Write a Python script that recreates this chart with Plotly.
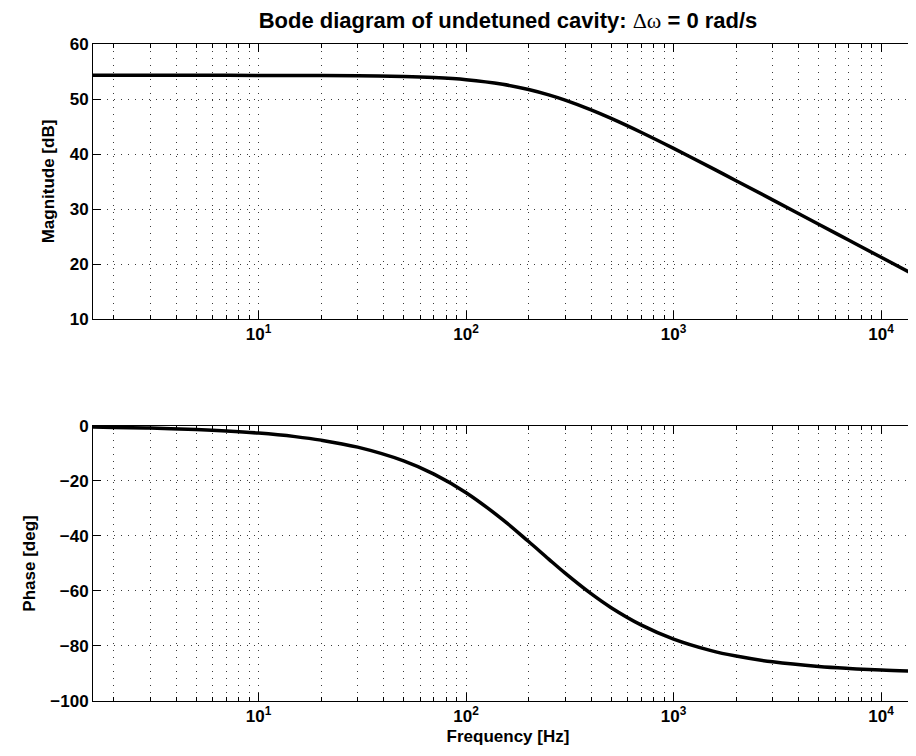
import plotly.graph_objects as go
from plotly.subplots import make_subplots
import math

# Frequency samples [Hz]
freq_hz = [1.59, 2, 3, 5, 7, 10, 15, 20, 30, 50, 70, 100, 150, 200, 250, 300,
           400, 500, 700, 1000, 1500, 2000, 3000, 5000, 7000, 10000, 15915]
# Magnitude [dB]
magnitude_db = [54.3, 54.3, 54.3, 54.3, 54.3, 54.29, 54.28, 54.26, 54.22, 54.09,
                53.89, 53.5, 52.67, 51.72, 50.74, 49.79, 48.02, 46.47, 43.91,
                41.02, 37.61, 35.15, 31.66, 27.24, 24.32, 21.22, 17.19]
# Phase [deg]
phase_deg = [-0.41, -0.52, -0.77, -1.29, -1.81, -2.58, -3.87, -5.15, -7.7, -12.69,
             -17.5, -24.25, -34.04, -42.02, -48.39, -53.5, -60.97, -66.06, -72.4,
             -77.48, -81.58, -83.67, -85.77, -87.46, -88.18, -88.73, -89.2]

x_major = [10, 100, 1000, 10000]
x_major_text = ["10<sup>1</sup>", "10<sup>2</sup>", "10<sup>3</sup>", "10<sup>4</sup>"]
mag_ticks = [10, 20, 30, 40, 50, 60]
phase_ticks = [-100, -80, -60, -40, -20, 0]

x_lo, x_hi = 1.5915, 15915.0
x_minor = [k * 10 ** e for e in range(0, 5) for k in range(2, 10)
           if x_lo < k * 10 ** e < x_hi]

FONT = "Liberation Sans, Arial, Helvetica, sans-serif"
GRID = "#3a3a3a"
DASH = "1px,6px"

fig = make_subplots(rows=2, cols=1, vertical_spacing=0.0)

fig.add_trace(go.Scatter(x=freq_hz, y=magnitude_db, mode="lines",
                         line=dict(color="black", width=3.5, shape="spline"),
                         showlegend=False), row=1, col=1)
fig.add_trace(go.Scatter(x=freq_hz, y=phase_deg, mode="lines",
                         line=dict(color="black", width=3.5, shape="spline"),
                         showlegend=False), row=2, col=1)

xcommon = dict(type="log", range=[math.log10(x_lo), math.log10(x_hi)],
               tickmode="array", tickvals=x_major, ticktext=x_major_text,
               ticks="inside", ticklen=8, tickcolor="black", tickwidth=1,
               showline=True, linecolor="black", linewidth=1, mirror="allticks",
               showgrid=True, gridcolor=GRID, gridwidth=1, griddash=DASH,
               zeroline=False, automargin=False,
               minor=dict(tickmode="array", tickvals=x_minor, ticks="inside",
                          ticklen=4, tickcolor="black", showgrid=True,
                          gridcolor=GRID, gridwidth=1, griddash=DASH),
               tickfont=dict(size=17))
ycommon = dict(ticks="inside", ticklen=8, tickcolor="black", tickwidth=1,
               showline=True, linecolor="black", linewidth=1, mirror="allticks",
               showgrid=True, gridcolor=GRID, gridwidth=1, griddash=DASH,
               zeroline=False, automargin=False, tickfont=dict(size=17))

fig.update_xaxes(**xcommon)
fig.update_xaxes(title=dict(text="Frequency [Hz]", font=dict(size=17), standoff=4),
                 row=2, col=1)
fig.update_yaxes(**ycommon)
fig.update_yaxes(range=[10, 60], tickvals=mag_ticks, domain=[0.5814, 1.0],
                 title=dict(text="Magnitude [dB]", font=dict(size=17), standoff=10),
                 row=1, col=1)
fig.update_yaxes(range=[-100, 0], tickvals=phase_ticks, domain=[0.0, 0.4186],
                 title=dict(text="Phase [deg]", font=dict(size=17), standoff=10),
                 row=2, col=1)

fig.update_layout(
    width=916, height=756,
    margin=dict(l=85, r=1, t=36, b=63, autoexpand=False),
    paper_bgcolor="white", plot_bgcolor="white",
    font=dict(family=FONT, size=17, color="black", weight="bold"),
    title=dict(
        text="Bode diagram of undetuned cavity: "
             "<span style='font-family:Liberation Serif, Times New Roman, serif;"
             "font-weight:normal'>Δω</span> = 0 rad/s",
        x=0.5, xref="paper", xanchor="center",
        y=1 - 12 / 756, yref="container", yanchor="middle",
        font=dict(size=22, family=FONT, weight="bold", color="black")),
)

fig.write_html("out.html")
